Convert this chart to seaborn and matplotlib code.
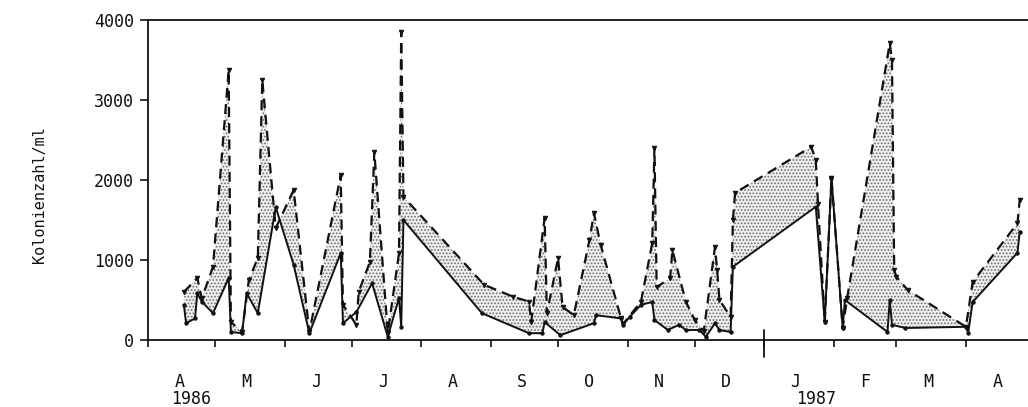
import numpy as np
import pandas as pd
import matplotlib
matplotlib.use("Agg")
import matplotlib.pyplot as plt
import matplotlib.transforms as mtransforms
import seaborn as sns

# x = days since 1 April 1986
solid_days = [16, 17, 21, 22, 24, 29, 36, 37, 42, 44, 49, 57, 65, 72, 86, 87, 93, 100,
              107, 112, 113, 114, 149, 170, 176, 177, 184, 199, 200, 211, 212, 215, 220,
              225, 226, 232, 237, 240, 246, 249, 253, 255, 260, 261, 298, 302, 305, 310,
              311, 330, 331, 332, 338, 365, 366, 368, 388, 389]
solid_vals = [440, 210, 270, 585, 480, 335, 775, 100, 85, 585, 335, 1660, 940, 85, 1085,
              210, 350, 710, 40, 525, 165, 1500, 335, 85, 85, 225, 60, 210, 310, 270, 190,
              290, 440, 475, 250, 125, 190, 125, 125, 40, 210, 125, 100, 915, 1665, 225,
              2025, 150, 500, 100, 500, 190, 150, 165, 85, 475, 1090, 1350]

dashed_days = [16, 22, 24, 29, 36, 37, 42, 45, 49, 51, 57, 65, 72, 86, 87, 93, 94, 99,
               101, 107, 112, 113, 114, 150, 163, 170, 171, 177, 178, 183, 185, 190, 197,
               199, 202, 211, 212, 220, 225, 226, 227, 233, 234, 240, 244, 248, 253, 254,
               255, 260, 261, 262, 296, 298, 299, 302, 305, 310, 312, 331, 332, 333, 334,
               339, 365, 368, 388, 389]
dashed_vals = [600, 775, 520, 915, 3375, 225, 100, 750, 1025, 3250, 1400, 1875, 100, 2060,
               440, 190, 600, 975, 2350, 90, 1085, 3850, 1790, 690, 540, 480, 225, 1525,
               335, 1025, 415, 310, 1250, 1585, 1190, 280, 200, 480, 1210, 2400, 660, 775,
               1125, 480, 250, 110, 1160, 875, 500, 290, 1500, 1840, 2415, 2250, 1700, 225,
               2025, 150, 525, 3710, 3500, 875, 790, 625, 165, 725, 1460, 1750]

month_starts = [0, 30, 61, 91, 122, 153, 183, 214, 244, 275, 306, 334, 365]
month_labels = ["A", "M", "J", "J", "A", "S", "O", "N", "D", "J", "F", "M", "A"]
year_labels = ["1986", "1987"]
y_ticks = [0, 1000, 2000, 3000, 4000]
y_label = "Kolonienzahl/ml"

sns.set_theme(style="ticks")
plt.rcParams["font.family"] = ["DejaVu Sans Mono", "DejaVu Sans"]

fig = plt.figure(figsize=(10.28, 4.07), dpi=100)
ax = fig.add_axes([148 / 1028, 1 - 340 / 407, 1 - 148 / 1028, 320 / 407])

solid_df = pd.DataFrame({"day": solid_days, "count": solid_vals})
dashed_df = pd.DataFrame({"day": dashed_days, "count": dashed_vals})

# stippled band where the dashed series exceeds the solid one
grid = np.union1d(solid_days, dashed_days)
lo = np.interp(grid, solid_days, solid_vals)
hi = np.interp(grid, dashed_days, dashed_vals)
plt.rcParams["hatch.linewidth"] = 0.8
ax.fill_between(grid, lo, hi, where=hi >= lo, interpolate=True,
                facecolor="#eeeeee", edgecolor="#6e6e6e", hatch=".....", linewidth=0,
                zorder=1)

sns.lineplot(data=dashed_df, x="day", y="count", ax=ax, estimator=None, sort=False,
             color="#111111", linewidth=1.6, marker="v", markersize=3.2,
             markeredgecolor="#111111", dashes=False, zorder=3)
ax.lines[-1].set_dashes([4.5, 2.8])
sns.lineplot(data=solid_df, x="day", y="count", ax=ax, estimator=None, sort=False,
             color="#111111", linewidth=1.4, marker="o", markersize=2.4,
             markeredgecolor="#111111", zorder=4)

ax.set_xlim(0, 392.7)
ax.set_ylim(0, 4000)
ax.set_xlabel("")
ax.set_ylabel("")

ax.spines["right"].set_visible(False)
for s in ["left", "top", "bottom"]:
    ax.spines[s].set_color("#111111")
    ax.spines[s].set_linewidth(1.3)

ax.set_yticks(y_ticks)
ax.set_yticklabels([str(v) for v in y_ticks], fontsize=12, color="#111111")
ax.tick_params(axis="y", direction="out", length=6, width=1.2, color="#111111", pad=4)

ax.set_xticks(month_starts)
ax.set_xticklabels([""] * len(month_starts))
ax.tick_params(axis="x", direction="out", length=5, width=1.2, color="#111111")

trans = mtransforms.blended_transform_factory(ax.transData, ax.transAxes)
for start, lab in zip(month_starts, month_labels):
    ax.text(start + 14, -0.13, lab, transform=trans, ha="center", va="center",
            fontsize=12, color="#111111")
# longer year-boundary tick at 1 January 1987
ax.plot([month_starts[9], month_starts[9]], [0.031, -0.053], transform=trans,
        color="#111111", linewidth=1.3, clip_on=False)
ax.text(19, -0.183, year_labels[0], transform=trans, ha="center", va="center",
        fontsize=12, color="#111111")
ax.text(298, -0.183, year_labels[1], transform=trans, ha="center", va="center",
        fontsize=12, color="#111111")

fig.text(40 / 1028, 1 - 195 / 407, y_label, rotation=90, ha="center", va="center",
         fontsize=11, color="#111111")

fig.savefig("out.png", dpi=100)
